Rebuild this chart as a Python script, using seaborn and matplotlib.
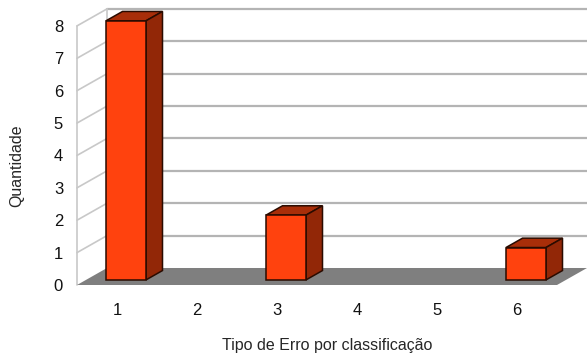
import numpy as np
import pandas as pd
import matplotlib
matplotlib.use('Agg')
import matplotlib.pyplot as plt
from matplotlib.patches import Polygon
import seaborn as sns

# dados do gráfico
tipos = ['1', '2', '3', '4', '5', '6']
quantidade = [8, 0, 2, 0, 0, 1]
y_ticks = [0, 1, 2, 3, 4, 5, 6, 7, 8]

df = pd.DataFrame({'tipo': tipos, 'quantidade': quantidade})

sns.set_style('white')
plt.rcParams['font.family'] = ['Liberation Sans', 'DejaVu Sans']

fig = plt.figure(figsize=(5.87, 3.6), dpi=100)
ax = fig.add_axes([77/587, 75/360, 510/587, 285/360])

XMIN, XMAX = -0.5, 5.875
DX, DY = 0.375, 0.525          # profundidade total (parede / piso)
BF, BB = 0.30, 0.85            # frente e fundo das barras (fração da profundidade)

grid_c = '#b4b4b4'
# linhas de grade no fundo
for v in y_ticks[1:]:
    ax.plot([XMIN + DX, XMAX + 1], [v + DY, v + DY], color=grid_c, lw=1.6, zorder=0)
    ax.plot([XMIN, XMIN + DX], [v, v + DY], color='#c8c8c8', lw=1.2, zorder=0, clip_on=False)
ax.plot([XMIN, XMIN], [0, y_ticks[-1]], color='#c8c8c8', lw=1.2, zorder=0, clip_on=False)
ax.plot([XMIN + DX, XMIN + DX], [DY, y_ticks[-1] + DY], color='#c8c8c8', lw=1.2, zorder=0)

# piso cinza
floor = Polygon([(XMIN, 0), (5.5, 0), (5.5 + DX, DY), (XMIN + DX, DY)],
                closed=True, facecolor='#7f7f7f', edgecolor='none', zorder=1, clip_on=False)
ax.add_patch(floor)

sns.barplot(data=df, x='tipo', y='quantidade', color='#ff420e', saturation=1,
            width=0.5, edgecolor='#2a0b00', linewidth=1.1, ax=ax, zorder=4)

bx, by = BF * DX, BF * DY
ddx, ddy = (BB - BF) * DX, (BB - BF) * DY
bars = list(ax.patches)
for p in bars:
    if p is floor:
        continue
    h = p.get_height()
    if h <= 0:
        p.set_visible(False)
        continue
    p.set_x(p.get_x() + bx)
    p.set_y(by)
    p.set_zorder(4)
    x0, x1 = p.get_x(), p.get_x() + p.get_width()
    top = Polygon([(x0, h + by), (x1, h + by), (x1 + ddx, h + by + ddy), (x0 + ddx, h + by + ddy)],
                  closed=True, facecolor='#a82e09', edgecolor='#2a0b00', lw=1.1, zorder=3)
    side = Polygon([(x1, by), (x1 + ddx, by + ddy), (x1 + ddx, h + by + ddy), (x1, h + by)],
                   closed=True, facecolor='#922707', edgecolor='#2a0b00', lw=1.1, zorder=3)
    ax.add_patch(top)
    ax.add_patch(side)

ax.set_xlim(XMIN, XMAX)
ax.set_ylim(0, 8.8)
ax.set_yticks(y_ticks)
for s in ax.spines.values():
    s.set_visible(False)
ax.tick_params(axis='both', length=0, labelsize=12, colors='#111111')
ax.tick_params(axis='y', pad=10)
ax.tick_params(axis='x', pad=13)
ax.set_xlabel('Tipo de Erro por classificação', fontsize=11.5)
ax.set_ylabel('Quantidade', fontsize=11.5)
ax.xaxis.set_label_coords(0.49, -0.186)
ax.yaxis.set_label_coords(-0.104, 0.418)

fig.savefig('out.png', dpi=100)
